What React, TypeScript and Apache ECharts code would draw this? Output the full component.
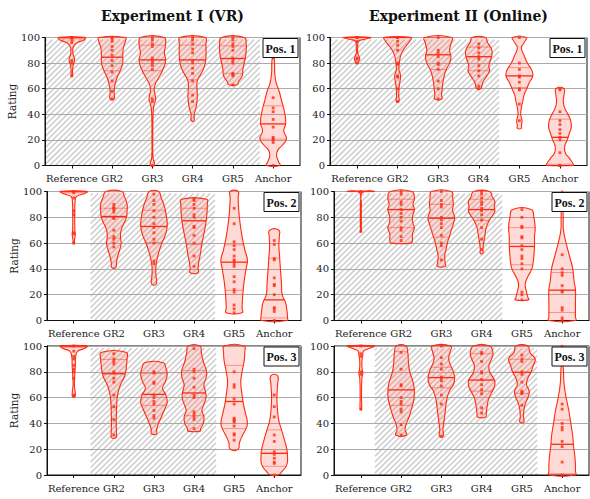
import React, { useEffect, useRef } from 'react';
import * as echarts from 'echarts';

const categories = ['Reference', 'GR2', 'GR3', 'GR4', 'GR5', 'Anchor'];
const columnTitles = ['Experiment I (VR)', 'Experiment II (Online)'];
const posLabels = ['Pos. 1', 'Pos. 2', 'Pos. 3'];
const yTicks = [0, 20, 40, 60, 80, 100];

// hatched ("hidden reference") region per panel, order: VR1, Online1, VR2, Online2, VR3, Online3
const hatchFrom = [0.333, 0.333, 1.42, 0.333, 1.42, 1.35];
const hatchTo = [5.67, 4.5, 4.52, 4.51, 4.55, 5.38];
const hatchTop = 98.5;

// violin outlines: [rating, relative half width]
const vr1Shape = [
  [[100, 1], [98, 0.9], [96, 0.4], [93, 0.12], [88, 0.08], [85, 0.15], [83, 0.21], [80, 0.15], [77, 0.08], [73, 0.05], [70, 0.05]],
  [[100, 1], [97, 1], [92, 0.85], [85, 0.8], [80, 0.8], [75, 0.65], [68, 0.35], [62, 0.2], [57, 0.15], [52, 0.15]],
  [[100, 0.88], [95, 1], [88, 0.9], [82, 1], [75, 0.8], [68, 0.45], [63, 0.2], [58, 0.15], [52, 0.25], [47, 0.12], [40, 0.05], [20, 0.03], [6, 0.05], [2, 0.15], [0, 0.15]],
  [[100, 0.95], [95, 1], [85, 1], [78, 0.9], [72, 0.65], [66, 0.35], [60, 0.33], [53, 0.35], [45, 0.25], [40, 0.12], [35, 0.1]],
  [[100, 0.85], [95, 1], [90, 1], [85, 0.95], [80, 0.85], [75, 0.75], [70, 0.7], [66, 0.45], [63, 0.3]],
  [[84, 0.05], [80, 0.1], [72, 0.12], [65, 0.22], [58, 0.45], [50, 0.65], [42, 0.85], [33, 0.95], [27, 0.8], [21, 1], [16, 0.7], [12, 0.35], [8, 0.25], [3, 0.4], [0, 0.5]],
];
const vr1Median = [100, 84.6, 82.5, 82.5, 83.6, 32.5];
const vr1Q1 = [99, 74, 74, 67, 72, 20.6];
const vr1Q3 = [100, 100, 94, 94, 93.5, 46.6];
const vr1Dots = [
  [100, 100, 100, 98, 96, 82, 80, 70],
  [100, 99, 97, 93, 90, 86, 82, 78, 73, 66, 58, 52],
  [100, 98, 95, 93, 84, 82, 80, 78, 75, 52, 50, 0],
  [100, 98, 95, 91, 88, 82, 80, 76, 72, 66, 55, 50],
  [100, 98, 95, 93, 90, 84, 82, 80, 72, 71, 70, 63],
  [84, 53, 45, 42, 36, 30, 22, 21, 20, 18, 0],
];

const on1Shape = [
  [[100, 1], [98.5, 0.5], [97, 0.12], [92, 0.05], [88, 0.05], [85, 0.15], [83, 0.2], [81, 0.1], [80, 0.08]],
  [[100, 1], [97, 0.9], [93, 0.6], [88, 0.3], [82, 0.15], [75, 0.1], [70, 0.22], [62, 0.12], [55, 0.08], [50, 0.1]],
  [[100, 1], [95, 0.95], [90, 0.85], [85, 0.95], [80, 0.85], [75, 0.6], [70, 0.45], [65, 0.35], [60, 0.3], [55, 0.25], [52, 0.28]],
  [[100, 0.5], [96, 0.65], [92, 0.9], [88, 1], [83, 0.9], [78, 0.75], [74, 0.8], [70, 0.6], [65, 0.3], [60, 0.15]],
  [[100, 0.5], [96, 0.35], [92, 0.15], [86, 0.35], [80, 0.6], [75, 0.9], [70, 1], [65, 0.75], [60, 0.55], [55, 0.35], [50, 0.25], [45, 0.15], [40, 0.1], [35, 0.2], [31, 0.15], [29, 0.15]],
  [[60, 0.3], [55, 0.3], [50, 0.25], [45, 0.35], [40, 0.6], [35, 0.8], [30, 0.85], [25, 0.7], [20, 0.55], [15, 0.35], [10, 0.4], [5, 0.75], [1, 1], [0, 1]],
];
const on1Median = [100, 100, 86.5, 85, 70, 22];
const on1Q1 = [100, 79, 75, 74, 61, 1];
const on1Q3 = [100, 100, 100, 92.5, 76.5, 36.2];
const on1Dots = [
  [100, 100, 97, 84, 83, 80],
  [100, 100, 97, 94, 90, 80, 79, 70, 69, 60, 50],
  [100, 90, 88, 85, 80, 79, 75, 66, 60, 52],
  [95, 92, 88, 85, 83, 78, 74, 70, 62, 60],
  [100, 80, 75, 70, 69, 65, 60, 59, 48, 35],
  [60, 59, 42, 35, 32, 28, 25, 22, 20, 10, 0, 0],
];

const vr2Shape = [
  [[100, 1], [98, 0.7], [96, 0.2], [92, 0.1], [85, 0.08], [70, 0.08], [67, 0.12], [62, 0.05], [60, 0.05]],
  [[100, 0.6], [96, 0.8], [90, 1], [85, 1], [80, 0.95], [75, 0.75], [70, 0.55], [65, 0.5], [60, 0.55], [55, 0.45], [50, 0.3], [45, 0.2], [41, 0.15]],
  [[100, 0.35], [95, 0.55], [88, 0.8], [80, 0.95], [73, 1], [66, 0.85], [60, 0.6], [54, 0.4], [48, 0.25], [42, 0.15], [35, 0.15], [31, 0.2], [28, 0.15]],
  [[94, 0.95], [90, 1], [80, 0.95], [70, 0.8], [60, 0.6], [50, 0.45], [45, 0.35], [40, 0.3], [37, 0.3]],
  [[100, 0.3], [95, 0.3], [85, 0.35], [75, 0.45], [65, 0.6], [55, 0.8], [47, 1], [40, 0.9], [30, 0.75], [20, 0.65], [10, 0.6], [6, 0.6]],
  [[70, 0.35], [65, 0.38], [58, 0.35], [50, 0.4], [42, 0.45], [35, 0.5], [28, 0.55], [20, 0.6], [14, 0.85], [8, 0.95], [3, 1], [0, 0.95]],
];
const vr2Median = [100, 80.6, 72.9, 77.3, 45.2, 16];
const vr2Q1 = [99, 63.8, 60.5, 59, 23.4, 2];
const vr2Q3 = [100, 87, 85.5, 87, 58.6, 48.3];
const vr2Dots = [
  [100, 99, 95, 85, 82, 68, 67, 60],
  [90, 88, 87, 86, 84, 80, 79, 70, 65, 63, 60, 57],
  [98, 93, 90, 85, 80, 75, 72, 68, 63, 60, 46, 44],
  [94, 93, 90, 87, 82, 80, 73, 72, 66, 60, 50, 42],
  [87, 75, 61, 58, 55, 50, 47, 46, 44, 42, 34, 30, 24, 22, 12, 9, 6],
  [62, 59, 48, 47, 33, 28, 27, 20, 10, 9, 7, 0],
];

const on2Shape = [
  [[100, 1], [99.2, 0.1], [90, 0.04], [69, 0.03]],
  [[100, 0.8], [95, 1], [90, 0.9], [86, 1], [80, 0.85], [75, 0.9], [72, 1], [67, 0.85], [62, 0.85], [60, 0.75]],
  [[100, 0.75], [95, 0.85], [90, 0.9], [85, 0.85], [80, 1], [75, 0.9], [70, 0.75], [65, 0.6], [60, 0.45], [55, 0.35], [50, 0.25], [45, 0.28], [42, 0.3]],
  [[100, 0.6], [96, 0.8], [92, 1], [88, 0.95], [85, 1], [82, 0.85], [78, 0.6], [72, 0.35], [66, 0.25], [60, 0.15], [55, 0.1], [52, 0.1]],
  [[86, 0.7], [80, 0.9], [72, 1], [65, 0.95], [58, 0.95], [50, 0.9], [45, 0.85], [40, 0.75], [33, 0.4], [28, 0.25], [22, 0.35], [18, 0.45], [16, 0.5]],
  [[100, 0.06], [90, 0.05], [80, 0.08], [70, 0.1], [60, 0.3], [50, 0.55], [40, 0.8], [30, 0.9], [24, 1], [15, 1], [8, 1], [3, 1], [0, 1]],
];
const on2Median = [100, 86, 79.3, 86, 57.4, 23.5];
const on2Q1 = [100, 72, 64.6, 77.5, 43.2, 6.2];
const on2Q3 = [100, 94, 90, 94, 72, 37.2];
const on2Dots = [
  [100, 69],
  [100, 98, 92, 90, 86, 83, 80, 77, 72, 70, 65, 62],
  [100, 93, 90, 88, 80, 78, 75, 72, 66, 60, 58, 47],
  [100, 98, 95, 92, 90, 87, 85, 82, 78, 72, 63, 55],
  [86, 80, 73, 72, 65, 64, 58, 55, 50, 48, 44, 40, 22, 20, 16],
  [51, 40, 37, 35, 27, 23, 22, 10, 8, 2, 0],
];

const vr3Shape = [
  [[100, 1], [98, 0.8], [96, 0.3], [92, 0.15], [85, 0.12], [78, 0.08], [70, 0.05], [65, 0.1], [62, 0.12], [61, 0.1]],
  [[95, 0.95], [90, 1], [85, 0.95], [80, 0.9], [75, 0.75], [70, 0.5], [65, 0.35], [60, 0.25], [50, 0.2], [40, 0.18], [32, 0.2], [29, 0.18]],
  [[87, 0.7], [83, 0.9], [78, 1], [72, 0.85], [67, 0.65], [62, 0.9], [56, 1], [52, 0.85], [46, 0.6], [40, 0.35], [35, 0.2], [32, 0.2]],
  [[100, 0.45], [95, 0.55], [88, 0.7], [80, 0.95], [75, 0.9], [70, 0.75], [65, 0.85], [60, 0.9], [55, 0.75], [50, 0.6], [45, 0.75], [40, 0.7], [36, 0.5], [34, 0.45]],
  [[100, 0.75], [95, 0.8], [88, 0.75], [80, 0.6], [72, 0.5], [62, 0.6], [55, 0.7], [48, 0.85], [40, 1], [35, 0.85], [30, 0.6], [25, 0.4], [20, 0.3]],
  [[77, 0.25], [70, 0.25], [60, 0.2], [50, 0.25], [42, 0.35], [35, 0.55], [28, 0.75], [20, 0.95], [15, 1], [8, 0.95], [3, 0.6], [0, 0.3]],
];
const vr3Median = [100, 78.5, 62.5, 63.6, 57, 16.8];
const vr3Q1 = [99, 52, 54, 46, 36, 6.7];
const vr3Q3 = [100, 89.6, 78.8, 80.9, 85, 35];
const vr3Dots = [
  [100, 96, 92, 90, 85, 82, 80, 75, 62, 61],
  [94, 90, 88, 86, 80, 79, 75, 72, 62, 53, 43, 31],
  [80, 79, 72, 71, 62, 60, 57, 55, 50, 46, 44],
  [98, 82, 80, 75, 68, 62, 60, 49, 47, 45, 43, 36],
  [80, 70, 68, 59, 55, 44, 43, 42, 41, 38, 32, 31, 27],
  [62, 53, 45, 31, 26, 18, 16, 13, 10, 9, 0],
];

const on3Shape = [
  [[100, 1], [98, 0.6], [96, 0.2], [93, 0.15], [88, 0.08], [82, 0.1], [79, 0.15], [75, 0.08], [60, 0.05], [51, 0.05]],
  [[100, 0.35], [95, 0.5], [88, 0.55], [80, 0.65], [72, 0.9], [65, 1], [58, 0.95], [52, 0.8], [45, 0.6], [40, 0.4], [35, 0.3], [31, 0.4]],
  [[100, 0.7], [95, 0.65], [90, 0.55], [85, 0.7], [80, 0.9], [75, 1], [70, 0.9], [65, 0.6], [58, 0.4], [50, 0.3], [42, 0.2], [35, 0.12], [30, 0.15]],
  [[100, 0.6], [95, 0.85], [90, 0.75], [85, 0.55], [80, 0.6], [75, 0.9], [72, 1], [68, 0.95], [63, 0.7], [58, 0.5], [52, 0.4], [48, 0.35], [45, 0.3]],
  [[100, 0.45], [95, 0.6], [90, 1], [85, 0.85], [80, 0.7], [75, 0.45], [70, 0.35], [65, 0.55], [60, 0.45], [55, 0.25], [50, 0.15], [45, 0.12], [41, 0.15]],
  [[100, 0.08], [90, 0.05], [80, 0.1], [70, 0.15], [60, 0.3], [50, 0.5], [40, 0.65], [30, 0.8], [23, 0.85], [15, 0.95], [8, 1], [3, 1], [0, 1]],
];
const on3Median = [100, 66, 75.5, 73.6, 79.6, 23.8];
const on3Q1 = [100, 54, 67.6, 65, 63.3, 1];
const on3Q3 = [100, 95.6, 83.5, 94, 89.7, 42.6];
const on3Dots = [
  [100, 94, 92, 80, 78, 51],
  [95, 82, 70, 69, 60, 57, 55, 51, 49, 39, 31],
  [100, 91, 86, 82, 76, 75, 73, 69, 62, 55, 30],
  [95, 94, 88, 80, 79, 74, 70, 66, 63, 52, 48],
  [93, 90, 88, 80, 78, 72, 65, 64, 63, 54],
  [55, 51, 40, 37, 35, 26, 22, 10, 0],
];

const panels = [
  { shape: vr1Shape, median: vr1Median, q1: vr1Q1, q3: vr1Q3, dots: vr1Dots },
  { shape: on1Shape, median: on1Median, q1: on1Q1, q3: on1Q3, dots: on1Dots },
  { shape: vr2Shape, median: vr2Median, q1: vr2Q1, q3: vr2Q3, dots: vr2Dots },
  { shape: on2Shape, median: on2Median, q1: on2Q1, q3: on2Q3, dots: on2Dots },
  { shape: vr3Shape, median: vr3Median, q1: vr3Q1, q3: vr3Q3, dots: vr3Dots },
  { shape: on3Shape, median: on3Median, q1: on3Q1, q3: on3Q3, dots: on3Dots },
];

// layout (pixels): left, top, width, height
const gridRects = [
  [45, 37.5, 255, 128],
  [330, 37.5, 257, 128],
  [47, 191.5, 254, 129],
  [334, 191.5, 255, 129],
  [47, 346, 254, 129],
  [334, 346, 255, 129],
];

const RED = '#ff2a10';
const HALF = 0.33;
const SERIF = '"DejaVu Serif", serif';

function widthAt(profile: number[][], v: number): number {
  if (v >= profile[0][0]) return profile[0][1];
  for (let k = 1; k < profile.length; k++) {
    const [a, wa] = profile[k - 1];
    const [b, wb] = profile[k];
    if (v >= b) {
      const t = (a - v) / (a - b);
      return wa + (wb - wa) * t;
    }
  }
  return profile[profile.length - 1][1];
}

function buildOption() {
  const grid = gridRects.map(([l, t, w, h]) => ({
    left: l, top: t, width: w, height: h,
    show: true, borderColor: '#111', borderWidth: 1, backgroundColor: 'transparent',
    containLabel: false, outerBoundsMode: 'none',
  }));
  const catIdx = categories.map((_, k) => k + 1);
  const xAxis = gridRects.map((_, i) => ({
    type: 'value', gridIndex: i, min: 1 / 3, max: 20 / 3,
    axisLine: { show: true, onZero: false, lineStyle: { color: '#111', width: 1 } },
    axisTick: { show: true, customValues: catIdx, length: 3, lineStyle: { color: '#111' } },
    axisLabel: {
      customValues: catIdx, formatter: (v: number) => categories[Math.round(v) - 1] || '',
      fontFamily: SERIF, fontSize: 10, color: '#222', margin: 8,
    },
    splitLine: { show: false },
  }));
  const yAxis = gridRects.map((_, i) => ({
    type: 'value', gridIndex: i, min: 0, max: 100, interval: 20,
    axisLine: { show: true, onZero: false, lineStyle: { color: '#111', width: 1 } },
    axisTick: { show: true, length: 3, lineStyle: { color: '#111' } },
    axisLabel: { fontFamily: SERIF, fontSize: 10, color: '#222', margin: 5 },
    splitLine: { show: true, lineStyle: { color: '#aaaaaa', width: 1 } },
    name: i % 2 === 0 ? 'Rating' : '',
    nameLocation: 'middle', nameGap: 28,
    nameTextStyle: { fontFamily: SERIF, fontSize: 10.5, color: '#222' },
  }));

  const series: any[] = [];
  panels.forEach((p, i) => {
    series.push({
      type: 'custom', xAxisIndex: i, yAxisIndex: i, z: -1, silent: true,
      data: [[hatchFrom[i], hatchTo[i], 0, hatchTop]],
      encode: { x: [0, 1], y: [2, 3] },
      renderItem: (params: any, api: any) => {
        const tl = api.coord([api.value(0), api.value(3)]);
        const br = api.coord([api.value(1), api.value(2)]);
        const x0 = tl[0], y0 = tl[1], x1 = br[0], y1 = br[1];
        const children: any[] = [];
        const step = 5.6;
        for (let c = x0 + y0 + 2; c < x1 + y1; c += step) {
          const ya = Math.max(y0, c - x1);
          const yb = Math.min(y1, c - x0);
          if (yb <= ya) continue;
          children.push({
            type: 'line', shape: { x1: c - ya, y1: ya, x2: c - yb, y2: yb },
            style: { stroke: '#cdcdcd', lineWidth: 1.5 },
          });
        }
        return { type: 'group', children };
      },
    });
    series.push({
      type: 'custom', xAxisIndex: i, yAxisIndex: i, z: 3, silent: true,
      data: categories.map((_, k) => [k + 1, p.median[k], p.q1[k], p.q3[k]]),
      encode: { x: 0, y: [1, 2, 3] },
      renderItem: (params: any, api: any) => {
        const k = params.dataIndex;
        const prof = p.shape[k];
        const cx = k + 1;
        const right = prof.map(([v, w]: number[]) => api.coord([cx + w * HALF, v]));
        const left = prof.slice().reverse().map(([v, w]: number[]) => api.coord([cx - w * HALF, v]));
        const pts = right.concat(left);
        const hline = (v: number, lw: number, color: string) => {
          const w = widthAt(prof, v) * HALF;
          const a = api.coord([cx - w, v]);
          const b = api.coord([cx + w, v]);
          return { type: 'line', shape: { x1: a[0], y1: a[1], x2: b[0], y2: b[1] }, style: { stroke: color, lineWidth: lw } };
        };
        return {
          type: 'group',
          children: [
            { type: 'polygon', shape: { points: pts, smooth: 0.5 }, style: { fill: 'rgba(255,70,50,0.2)', stroke: RED, lineWidth: 1.1 } },
            hline(api.value(2), 0.7, 'rgba(255,40,20,0.6)'),
            hline(api.value(3), 0.7, 'rgba(255,40,20,0.6)'),
            hline(api.value(1), 1.3, RED),
          ],
        };
      },
    });
    const pts: number[][] = [];
    p.dots.forEach((arr, k) => arr.forEach((v) => pts.push([k + 1, v])));
    series.push({
      type: 'scatter', xAxisIndex: i, yAxisIndex: i, z: 5, silent: true,
      symbol: 'rect', symbolSize: 2.8, itemStyle: { color: RED },
      data: pts,
    });
  });

  const graphic: any[] = [];
  columnTitles.forEach((t, c) => {
    const [l, , w] = gridRects[c];
    graphic.push({
      type: 'text', x: l + w / 2, y: 16,
      style: { text: t, font: 'bold 14px "DejaVu Serif"', fill: '#111', align: 'center', verticalAlign: 'middle', textAlign: 'center', textVerticalAlign: 'middle' },
    });
  });
  gridRects.forEach(([l, t, w], i) => {
    const bw = 35, bh = 19;
    const bx = l + w - 2 - bw, by = t + 1;
    graphic.push({ type: 'rect', shape: { x: bx, y: by, width: bw, height: bh }, style: { fill: '#fff', stroke: '#111', lineWidth: 1 }, z: 100 });
    graphic.push({
      type: 'text', x: bx + bw / 2, y: by + bh / 2 + 0.5, z: 101,
      style: { text: posLabels[Math.floor(i / 2)], font: 'bold 12px "Liberation Serif"', fill: '#111', align: 'center', verticalAlign: 'middle', textAlign: 'center', textVerticalAlign: 'middle' },
    });
  });

  return { animation: false, backgroundColor: '#fff', grid, xAxis, yAxis, series, graphic };
}

export default function App() {
  const ref = useRef<HTMLDivElement>(null);
  useEffect(() => {
    if (!ref.current) return;
    const chart = echarts.init(ref.current, undefined, { renderer: 'svg' });
    chart.setOption(buildOption() as any);
    return () => chart.dispose();
  }, []);
  return <div ref={ref} style={{ position: 'fixed', left: 0, top: 0, width: 590, height: 499 }} />;
}
